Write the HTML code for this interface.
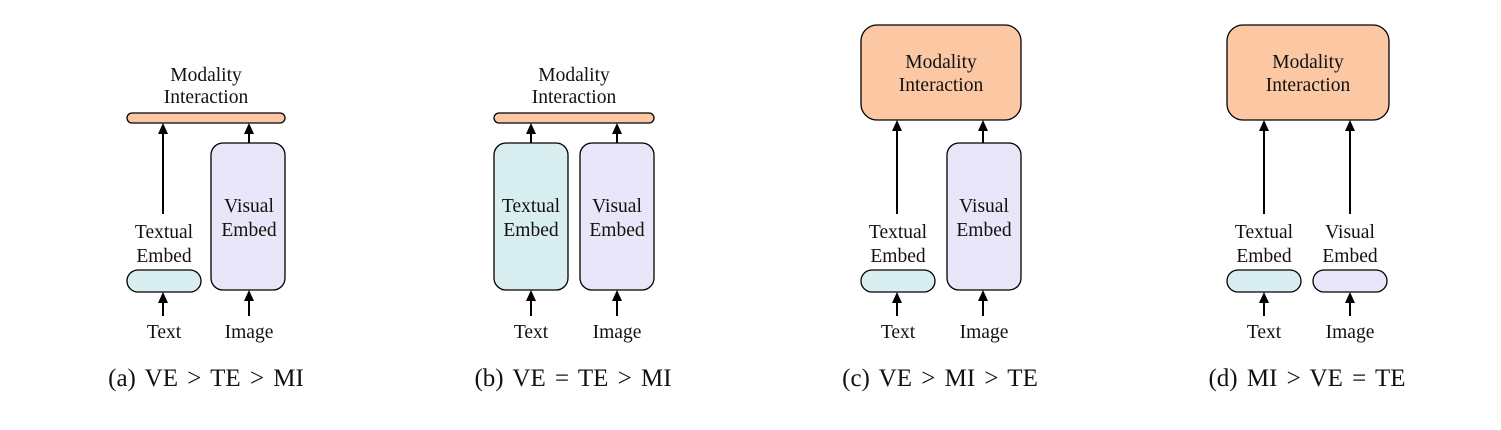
<!DOCTYPE html>
<html><head><meta charset="utf-8"><style>
html,body{margin:0;padding:0;background:#fff;}
svg text{font-family:"Liberation Serif",serif;fill:#111;}
</style></head><body>
<svg width="1501" height="425" viewBox="0 0 1501 425" xmlns="http://www.w3.org/2000/svg">
<g stroke="#000" stroke-width="1.3">
<rect x="127" y="113" width="158" height="10" rx="5" fill="#fcc8a4"/>
<rect x="211" y="143" width="74" height="147" rx="12" fill="#e8e6f8"/>
<rect x="127" y="270" width="74" height="22" rx="11" fill="#d9eef0"/>
<rect x="494" y="113" width="160" height="10" rx="5" fill="#fcc8a4"/>
<rect x="494" y="143" width="74" height="147" rx="12" fill="#d9eef0"/>
<rect x="580" y="143" width="74" height="147" rx="12" fill="#e8e6f8"/>
<rect x="861" y="25" width="160" height="95" rx="16" fill="#fcc8a4"/>
<rect x="947" y="143" width="74" height="147" rx="12" fill="#e8e6f8"/>
<rect x="861" y="270" width="74" height="22" rx="11" fill="#d9eef0"/>
<rect x="1227" y="25" width="162" height="95" rx="16" fill="#fcc8a4"/>
<rect x="1227" y="270" width="74" height="22" rx="11" fill="#d9eef0"/>
<rect x="1313" y="270" width="74" height="22" rx="11" fill="#e8e6f8"/>
</g>
<g stroke="#000" stroke-width="2">
<line x1="163" y1="214" x2="163" y2="132"/>
<line x1="249" y1="143" x2="249" y2="132"/>
<line x1="163" y1="316" x2="163" y2="302"/>
<line x1="249" y1="316" x2="249" y2="300"/>
<line x1="531" y1="143" x2="531" y2="132"/>
<line x1="617" y1="143" x2="617" y2="132"/>
<line x1="531" y1="316" x2="531" y2="300"/>
<line x1="617" y1="316" x2="617" y2="300"/>
<line x1="897" y1="214" x2="897" y2="130"/>
<line x1="983" y1="143" x2="983" y2="130"/>
<line x1="897" y1="316" x2="897" y2="302"/>
<line x1="983" y1="316" x2="983" y2="300"/>
<line x1="1264" y1="214" x2="1264" y2="130"/>
<line x1="1350" y1="214" x2="1350" y2="130"/>
<line x1="1264" y1="316" x2="1264" y2="302"/>
<line x1="1350" y1="316" x2="1350" y2="302"/>
</g>
<g fill="#000">
<polygon points="163,123 158,134 168,134"/>
<polygon points="249,123 244,134 254,134"/>
<polygon points="163,292 158,303 168,303"/>
<polygon points="249,290 244,301 254,301"/>
<polygon points="531,123 526,134 536,134"/>
<polygon points="617,123 612,134 622,134"/>
<polygon points="531,290 526,301 536,301"/>
<polygon points="617,290 612,301 622,301"/>
<polygon points="897,120 892,131 902,131"/>
<polygon points="983,120 978,131 988,131"/>
<polygon points="897,292 892,303 902,303"/>
<polygon points="983,290 978,301 988,301"/>
<polygon points="1264,120 1259,131 1269,131"/>
<polygon points="1350,120 1345,131 1355,131"/>
<polygon points="1264,292 1259,303 1269,303"/>
<polygon points="1350,292 1345,303 1355,303"/>
</g>
<g font-size="19.5" text-anchor="middle">
<text x="206" y="81">Modality</text><text x="206" y="103">Interaction</text>
<text x="164" y="238">Textual</text><text x="164" y="262">Embed</text>
<text x="249" y="212">Visual</text><text x="249" y="236">Embed</text>
<text x="164" y="338">Text</text><text x="249" y="338">Image</text>
<text x="574" y="81">Modality</text><text x="574" y="103">Interaction</text>
<text x="531" y="212">Textual</text><text x="531" y="236">Embed</text>
<text x="617" y="212">Visual</text><text x="617" y="236">Embed</text>
<text x="531" y="338">Text</text><text x="617" y="338">Image</text>
<text x="941" y="68">Modality</text><text x="941" y="91">Interaction</text>
<text x="898" y="238">Textual</text><text x="898" y="262">Embed</text>
<text x="984" y="212">Visual</text><text x="984" y="236">Embed</text>
<text x="898" y="338">Text</text><text x="984" y="338">Image</text>
<text x="1308" y="68">Modality</text><text x="1308" y="91">Interaction</text>
<text x="1264" y="238">Textual</text><text x="1264" y="262">Embed</text>
<text x="1350" y="238">Visual</text><text x="1350" y="262">Embed</text>
<text x="1264" y="338">Text</text><text x="1350" y="338">Image</text>
</g>
<g font-size="25" text-anchor="middle" word-spacing="3">
<text x="206" y="386">(a) VE &gt; TE &gt; MI</text>
<text x="573" y="386">(b) VE = TE &gt; MI</text>
<text x="940" y="386">(c) VE &gt; MI &gt; TE</text>
<text x="1307" y="386">(d) MI &gt; VE = TE</text>
</g>
</svg>
</body></html>
